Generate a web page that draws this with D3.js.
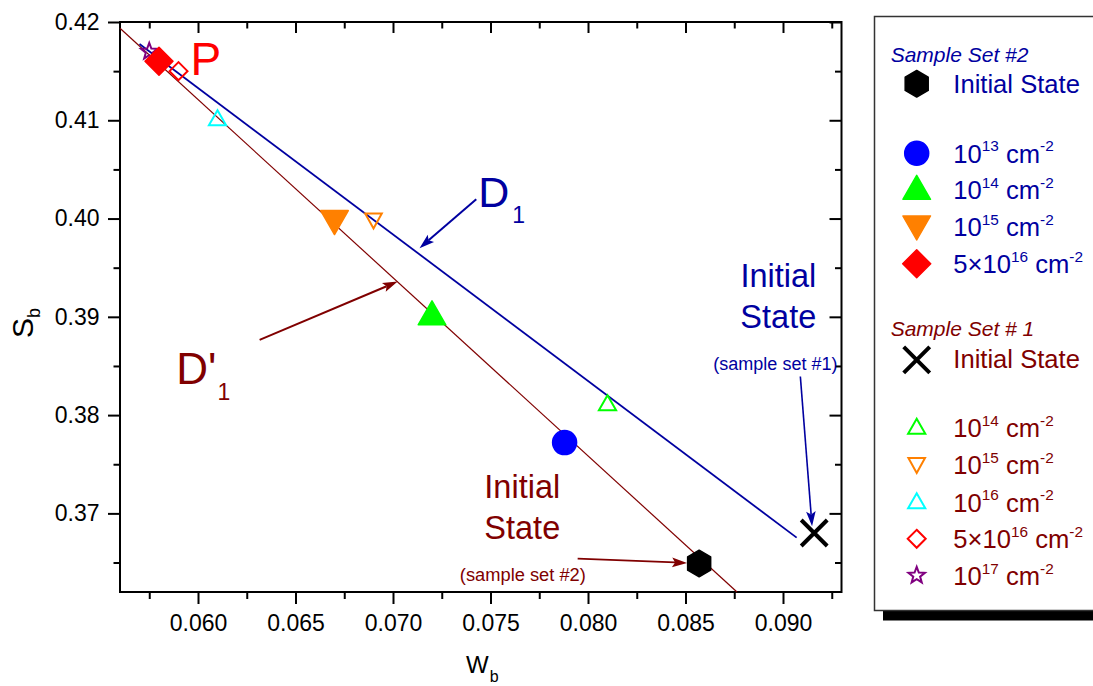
<!DOCTYPE html>
<html><head><meta charset="utf-8">
<script src="https://cdn.jsdelivr.net/npm/d3@7"></script>
<style>
body{margin:0;background:#fff}
svg{display:block}
text{font-family:"Liberation Sans",Arial,Helvetica,sans-serif;white-space:pre}
</style>
</head><body>
<svg id="c" width="1093" height="686"></svg>
<script>
// ---------- data ----------
const set2Title = "Sample Set #2";
const set2Names = ["Initial State","10^13 cm^-2","10^14 cm^-2","10^15 cm^-2","5×10^16 cm^-2"];
const set2W = [0.0857,0.0788,0.0720,0.0670,0.0580];
const set2S = [0.3649,0.3772,0.3900,0.4000,0.4160];
const set2Shapes = ["hexagon","circle","triangleUp","triangleDown","diamond"];
const set2Colors = ["#000000","#0000FF","#00FF00","#FF8000","#FF0000"];

const set1Title = "Sample Set # 1";
const set1Names = ["Initial State","10^14 cm^-2","10^15 cm^-2","10^16 cm^-2","5×10^16 cm^-2","10^17 cm^-2"];
const set1W = [0.0916,0.0810,0.0690,0.0610,0.0590,0.0575];
const set1S = [0.3680,0.3810,0.4000,0.4100,0.4150,0.4170];
const set1Shapes = ["cross","triangleUp","triangleDown","triangleUp","diamond","star"];
const set1Colors = ["#000000","#00FF00","#FF8000","#00FFFF","#FF0000","#800080"];

const lineD1W = [0.0570,0.0907];
const lineD1S = [0.41776,0.36753];
const lineD1pW = [0.0560,0.08764];
const lineD1pS = [0.41936,0.3620];

const xMajorTicks = [0.060,0.065,0.070,0.075,0.080,0.085,0.090];
const xMinorTicks = [0.0575,0.0625,0.0675,0.0725,0.0775,0.0825,0.0875,0.0925];
const yMajorTicks = [0.37,0.38,0.39,0.40,0.41,0.42];
const yMinorTicks = [0.365,0.375,0.385,0.395,0.405,0.415];

// arrows: [w0,s0,w1,s1]
const arrowD1 = [0.07427,0.40197,0.07136,0.39699];
const arrowD1p = [0.06316,0.38766,0.07024,0.39359];
const arrowInit1 = [0.09089,0.38393,0.09149,0.36868];
const arrowInit2 = [0.07947,0.36539,0.08508,0.36496];

const BLUE = "#0000A0", WINE = "#800000";

// ---------- scales ----------
const svg = d3.select("#c");
const L = 120, R = 841.5, T = 22, B = 592;
const x = d3.scaleLinear().domain([0.056,0.093]).range([L,R]);
const y = d3.scaleLinear().domain([0.362,0.42]).range([B,T]);

// ---------- shapes ----------
function shapePath(type, filled){
  const p = d3.path();
  const poly = pts => { p.moveTo(pts[0][0],pts[0][1]); pts.slice(1).forEach(q=>p.lineTo(q[0],q[1])); p.closePath(); };
  if(type==="hexagon"){ const r=13.3; poly(d3.range(6).map(k=>{const a=(-90+60*k)*Math.PI/180;return [r*Math.cos(a),r*Math.sin(a)];})); }
  else if(type==="circle"){ p.arc(0,0,12,0,2*Math.PI); }
  else if(type==="triangleUp"){ const w=filled?13.8:8.6,h=filled?16:10; poly([[0,-h],[w,h/2],[-w,h/2]]); }
  else if(type==="triangleDown"){ const w=filled?13.8:8.3,h=filled?16:10; poly([[0,h],[w,-h/2],[-w,-h/2]]); }
  else if(type==="diamond"){ const r=filled?14:9; poly([[0,-r],[r,0],[0,r],[-r,0]]); }
  else if(type==="cross"){ const r=13; p.moveTo(-r,-r);p.lineTo(r,r);p.moveTo(r,-r);p.lineTo(-r,r); }
  else if(type==="star"){ const ro=8.6, ri=3.6; poly(d3.range(10).map(k=>{const a=(-90+36*k)*Math.PI/180, r=k%2?ri:ro;return [r*Math.cos(a),r*Math.sin(a)];})); }
  return p.toString();
}
function drawMarker(g, type, color, filled, cx, cy){
  const el = g.append("path").attr("d", shapePath(type, filled)).attr("transform",`translate(${cx},${cy})`);
  if(type==="cross"){ el.attr("fill","none").attr("stroke",color).attr("stroke-width",4); }
  else if(filled){ el.attr("fill",color).attr("stroke",color).attr("stroke-width",1.5).attr("stroke-linejoin","round"); }
  else { el.attr("fill","none").attr("stroke",color).attr("stroke-width",2).attr("stroke-linejoin","miter"); }
}

// ---------- axes ----------
const fmtX = d3.format(".3f"), fmtY = d3.format(".2f");
function styleAxis(g){ g.select(".domain").remove(); g.selectAll("line").attr("stroke","#000").attr("stroke-width",2);
  g.selectAll("text").attr("font-size",23).attr("fill","#000").attr("font-family","Liberation Sans, Arial, sans-serif"); }

svg.append("g").attr("transform",`translate(${L},0)`)
  .call(d3.axisLeft(y).tickValues(yMajorTicks).tickSize(12).tickPadding(8.5).tickFormat(fmtY)).call(styleAxis);
svg.append("g").attr("transform",`translate(${L},0)`)
  .call(d3.axisLeft(y).tickValues(yMinorTicks).tickSize(6.5).tickFormat("")).call(styleAxis);
svg.append("g").attr("transform",`translate(0,${B})`)
  .call(d3.axisBottom(x).tickValues(xMajorTicks).tickSize(12).tickPadding(10.5).tickFormat(fmtX)).call(styleAxis);
svg.append("g").attr("transform",`translate(0,${B})`)
  .call(d3.axisBottom(x).tickValues(xMinorTicks).tickSize(7).tickFormat("")).call(styleAxis);
svg.append("g").attr("transform",`translate(0,${T})`)
  .call(d3.axisTop(x).tickValues(xMajorTicks).tickSize(-11).tickFormat("")).call(styleAxis);
svg.append("g").attr("transform",`translate(0,${T})`)
  .call(d3.axisTop(x).tickValues(xMinorTicks).tickSize(-6.5).tickFormat("")).call(styleAxis);
svg.append("g").attr("transform",`translate(${R},0)`)
  .call(d3.axisRight(y).tickValues(yMajorTicks).tickSize(-12).tickFormat("")).call(styleAxis);
svg.append("g").attr("transform",`translate(${R},0)`)
  .call(d3.axisRight(y).tickValues(yMinorTicks).tickSize(-6.5).tickFormat("")).call(styleAxis);

svg.append("rect").attr("x",L).attr("y",T).attr("width",R-L).attr("height",B-T)
  .attr("fill","none").attr("stroke","#000").attr("stroke-width",2);

// axis titles
const yt = svg.append("text").attr("transform","translate(33,338) rotate(-90)").attr("font-size",30).attr("fill","#000");
yt.append("tspan").text("S");
yt.append("tspan").attr("font-size",18).attr("dy",7).text("b");
const xt = svg.append("text").attr("x",466).attr("y",673).attr("font-size",24).attr("fill","#000");
xt.append("tspan").text("W");
xt.append("tspan").attr("font-size",16).attr("dy",8.5).attr("dx",1).text("b");

// ---------- fit lines ----------
const line = d3.line().x(d=>x(d[0])).y(d=>y(d[1]));
svg.append("path").attr("d",line(d3.zip(lineD1pW,lineD1pS))).attr("stroke",WINE).attr("stroke-width",1.2).attr("fill","none");
svg.append("path").attr("d",line(d3.zip(lineD1W,lineD1S))).attr("stroke",BLUE).attr("stroke-width",1.8).attr("fill","none");

// ---------- points ----------
const gp = svg.append("g");
set1W.forEach((w,i)=>{ if(set1Shapes[i]!=="cross") drawMarker(gp,set1Shapes[i],set1Colors[i],false,x(w),y(set1S[i])); });
set2W.forEach((w,i)=>drawMarker(gp,set2Shapes[i],set2Colors[i],true,x(w),y(set2S[i])));
set1W.forEach((w,i)=>{ if(set1Shapes[i]==="cross") drawMarker(gp,"cross",set1Colors[i],false,x(w),y(set1S[i])); });

// ---------- arrows ----------
function arrow(a,color,width){
  const x0=x(a[0]),y0=y(a[1]),x1=x(a[2]),y1=y(a[3]);
  const ang=Math.atan2(y1-y0,x1-x0), len=15, hw=4.8;
  const bx=x1-len*Math.cos(ang), by=y1-len*Math.sin(ang);
  svg.append("line").attr("x1",x0).attr("y1",y0).attr("x2",bx+3*Math.cos(ang)).attr("y2",by+3*Math.sin(ang))
    .attr("stroke",color).attr("stroke-width",width);
  const px=-Math.sin(ang), py=Math.cos(ang);
  svg.append("path").attr("d",`M${x1},${y1}L${bx+hw*px},${by+hw*py}L${bx+3*Math.cos(ang)},${by+3*Math.sin(ang)}L${bx-hw*px},${by-hw*py}Z`).attr("fill",color);
}
arrow(arrowD1,BLUE,2);
arrow(arrowD1p,WINE,2);
arrow(arrowInit1,BLUE,1.6);
arrow(arrowInit2,WINE,1.8);

// ---------- annotations ----------
svg.append("text").attr("x",x(0.05961)).attr("y",y(0.41461)).attr("font-size",46).attr("fill","#FF0000").text("P");
const d1 = svg.append("text").attr("x",x(0.07437)).attr("y",y(0.40116)).attr("font-size",43).attr("fill",BLUE);
d1.append("tspan").text("D"); d1.append("tspan").attr("font-size",23).attr("dy",16).attr("dx",3).text("1");
const d1p = svg.append("text").attr("x",x(0.05889)).attr("y",y(0.38316)).attr("font-size",44).attr("fill",WINE);
d1p.append("tspan").text("D'"); d1p.append("tspan").attr("font-size",23).attr("dy",16).attr("dx",1).text("1");

function twoLine(wx, sy, color){
  const t = svg.append("text").attr("text-anchor","middle").attr("font-size",32.5).attr("fill",color);
  t.append("tspan").attr("x",x(wx)).attr("y",y(sy)).text("Initial");
  t.append("tspan").attr("x",x(wx)).attr("dy",41.5).text("State");
}
twoLine(0.08976,0.39305,BLUE);
twoLine(0.07663,0.37157,WINE);
svg.append("text").attr("x",x(0.08961)).attr("y",y(0.38461)).attr("text-anchor","middle").attr("font-size",18).attr("fill",BLUE).text("(sample set #1)");
svg.append("text").attr("x",x(0.07666)).attr("y",y(0.36309)).attr("text-anchor","middle").attr("font-size",18.3).attr("fill",WINE).text("(sample set #2)");

// ---------- legend ----------
svg.append("rect").attr("x",883).attr("y",611).attr("width",260).attr("height",9.5).attr("fill","#000");
svg.append("rect").attr("x",874.5).attr("y",16.5).attr("width",260).attr("height",594).attr("fill","#fff").attr("stroke","#333").attr("stroke-width",1.5);

function richText(parent, str, size, color, xx, yy){
  const t = parent.append("text").attr("x",xx).attr("y",yy).attr("font-size",size).attr("fill",color);
  const parts = str.split(/(\^\S+)/).filter(s=>s.length);
  let reset = 0;
  parts.forEach(s=>{
    if(s[0]==="^"){ t.append("tspan").attr("font-size",size*0.6).attr("dy",-11.5+reset).text(s.slice(1)); reset=11.5; }
    else { const ts=t.append("tspan").text(s); if(reset){ts.attr("dy",reset); reset=0;} }
  });
  return t;
}
const lg = svg.append("g");
const MX = 916.7, TX = 953.3;
lg.append("text").attr("x",890.7).attr("y",61.7).attr("font-size",21).attr("font-style","italic").attr("fill",BLUE).text(set2Title);
const set2Base = [93.3,162.7,199.3,236,273.3];
set2Names.forEach((n,i)=>{
  drawMarker(lg,set2Shapes[i],set2Colors[i],true,MX,set2Base[i]-(set2Shapes[i]==="triangleUp"?8:set2Shapes[i]==="triangleDown"?12:9.5));
  richText(lg,n,25.6,BLUE,TX,set2Base[i]);
});
lg.append("text").attr("x",890.7).attr("y",336).attr("font-size",21).attr("font-style","italic").attr("fill",WINE).text(set1Title);
const set1Base = [368.3,437.3,474,511.7,548.3,585];
set1Names.forEach((n,i)=>{
  const sh=set1Shapes[i];
  drawMarker(lg,sh,set1Colors[i],false,MX,set1Base[i]-(sh==="cross"?8.5:sh==="triangleUp"?8.5:sh==="triangleDown"?11:9.5));
  richText(lg,n,25.6,WINE,TX,set1Base[i]);
});
</script>
</body></html>
